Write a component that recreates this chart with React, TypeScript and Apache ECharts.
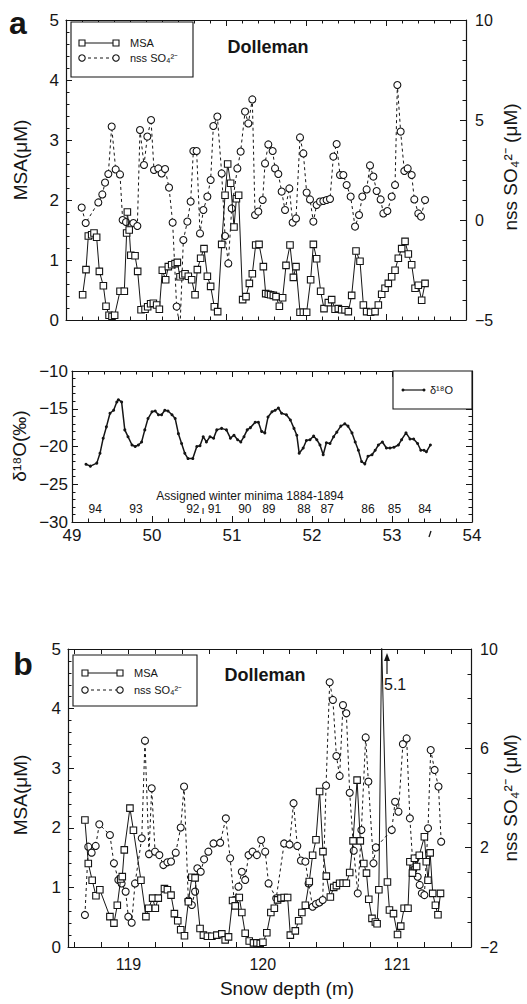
import React, { useEffect, useRef } from "react";
import * as echarts from "echarts";

const FONT = "'Liberation Sans', Arial, Helvetica, sans-serif";
const INK = "#151515";

// ---------- Panel a (top): depth 49-54 m ----------
const A_MSA: [number, number][] = [
  [49.208, 0.42], [49.25, 0.84], [49.279, 1.4], [49.321, 1.42], [49.35, 1.45], [49.383, 1.38],
  [49.417, 0.81], [49.467, 0.57], [49.5, 0.23], [49.538, 0.08], [49.575, 0.06], [49.608, 0.08],
  [49.675, 0.48], [49.729, 0.48], [49.758, 1.45], [49.767, 1.8], [49.79, 1.5], [49.81, 1.08],
  [49.863, 1.07], [49.896, 0.81], [49.938, 0.17], [49.988, 0.18], [50.021, 0.22], [50.058, 0.27],
  [50.092, 0.28], [50.133, 0.25], [50.167, 0.18], [50.204, 0.83], [50.246, 0.67], [50.279, 0.89],
  [50.321, 0.92], [50.363, 0.94], [50.392, 0.96], [50.425, 0.72], [50.458, 0.75], [50.488, 0.77],
  [50.529, 0.73], [50.571, 0.67], [50.613, 0.42], [50.642, 0.84], [50.683, 1.03], [50.725, 1.19],
  [50.767, 0.73], [50.808, 0.56], [50.854, 0.22], [50.896, 0.14], [50.946, 1.26], [50.988, 2.08],
  [51.021, 2.6], [51.058, 2.28], [51.1, 1.55], [51.13, 2.02], [51.158, 2.08], [51.208, 0.34],
  [51.25, 0.39], [51.292, 0.61], [51.329, 0.77], [51.371, 1.25], [51.413, 1.26], [51.467, 0.89],
  [51.496, 0.44], [51.529, 0.43], [51.558, 0.42], [51.592, 0.41], [51.625, 0.39], [51.667, 0.23],
  [51.708, 0.37], [51.75, 0.91], [51.8, 1.25], [51.842, 0.71], [51.875, 0.89], [51.925, 0.13],
  [51.967, 0.13], [52.008, 0.13], [52.058, 0.67], [52.092, 1.26], [52.133, 1.02], [52.183, 0.48],
  [52.225, 0.19], [52.279, 0.29], [52.321, 0.34], [52.363, 0.18], [52.404, 0.19], [52.446, 0.17],
  [52.488, 0.17], [52.529, 0.14], [52.571, 0.41], [52.625, 1.15], [52.675, 0.98], [52.717, 0.25],
  [52.758, 0.14], [52.808, 0.13], [52.863, 0.14], [52.904, 0.25], [52.946, 0.43], [52.988, 0.53],
  [53.029, 0.61], [53.071, 0.72], [53.113, 0.83], [53.154, 1.03], [53.196, 1.19], [53.238, 1.31],
  [53.279, 1.1], [53.321, 0.92], [53.363, 0.53], [53.404, 0.58], [53.446, 0.33], [53.488, 0.61],
];

const A_NSS: [number, number][] = [
  [49.196, 0.62], [49.246, -0.15], [49.404, 0.88], [49.454, 1.28], [49.488, 1.87], [49.529, 2.3],
  [49.571, 4.67], [49.621, 2.53], [49.675, 2.28], [49.708, 0.0], [49.75, -0.1], [49.842, -0.15],
  [49.892, -0.3], [49.925, 4.5], [49.975, 2.75], [50.017, 4.17], [50.063, 5.0], [50.1, 2.5],
  [50.154, 2.58], [50.196, 2.33], [50.238, 2.55], [50.288, 1.62], [50.333, -0.13], [50.383, -4.33],
  [50.425, -5.4], [50.467, -1.0], [50.517, -0.08], [50.558, 0.92], [50.592, 3.45], [50.633, 3.45],
  [50.675, -0.67], [50.717, 0.5], [50.767, 1.17], [50.808, 2.0], [50.842, 4.7], [50.892, 5.17],
  [50.946, 2.33], [50.988, -0.8], [51.029, -2.17], [51.071, 0.58], [51.142, 2.58], [51.183, 3.42],
  [51.238, 5.42], [51.279, 4.83], [51.329, 6.03], [51.363, 0.25], [51.404, 0.42], [51.458, 1.0],
  [51.488, 2.83], [51.529, 3.78], [51.583, 3.45], [51.613, 2.58], [51.654, 2.3], [51.696, 1.42],
  [51.738, 0.5], [51.792, 1.58], [51.833, -0.13], [51.875, 0.08], [51.925, 4.13], [51.967, 3.33],
  [52.008, 1.37], [52.05, 1.03], [52.092, -0.08], [52.133, 0.75], [52.175, 0.92], [52.217, 0.95],
  [52.258, 1.0], [52.3, 1.05], [52.342, 3.17], [52.383, 3.8], [52.425, 2.25], [52.467, 2.25],
  [52.508, 1.75], [52.558, 1.17], [52.613, -0.33], [52.663, 0.25], [52.704, 1.17], [52.758, 1.53],
  [52.8, 2.73], [52.842, 2.17], [52.883, 1.45], [52.933, 1.03], [52.967, 0.33], [53.017, 0.45],
  [53.071, 1.17], [53.113, 1.75], [53.142, 6.75], [53.183, 4.42], [53.229, 2.45], [53.271, 2.58],
  [53.321, 2.25], [53.354, 1.03], [53.404, 0.33], [53.438, 0.17], [53.488, 1.0],
];

const D18O: [number, number][] = [
  [49.175, -22.36], [49.23, -22.6], [49.31, -22.2], [49.35, -20.9], [49.39, -18.9], [49.43, -17.4],
  [49.475, -15.6], [49.52, -15.2], [49.56, -14.1], [49.58, -13.8], [49.62, -14.1], [49.66, -17.8],
  [49.7, -18.7], [49.75, -19.8], [49.79, -20.0], [49.83, -19.8], [49.87, -19.4], [49.91, -17.8],
  [49.95, -16.3], [50.0, -15.4], [50.04, -15.3], [50.08, -15.8], [50.12, -15.8], [50.16, -15.2],
  [50.2, -15.3], [50.25, -15.8], [50.29, -16.3], [50.33, -18.3], [50.37, -19.6], [50.41, -20.9],
  [50.45, -21.6], [50.51, -21.6], [50.56, -20.0], [50.6, -19.9], [50.64, -18.7], [50.68, -19.4],
  [50.725, -18.7], [50.77, -18.9], [50.81, -17.8], [50.87, -17.6], [50.93, -17.8], [50.98, -18.9],
  [51.025, -18.5], [51.07, -19.1], [51.11, -19.4], [51.15, -18.7], [51.19, -17.8], [51.23, -17.5],
  [51.29, -16.8], [51.33, -16.8], [51.37, -18.0], [51.41, -18.2], [51.45, -16.1], [51.5, -15.4],
  [51.54, -15.2], [51.58, -14.9], [51.62, -15.6], [51.68, -15.8], [51.73, -16.5], [51.775, -17.6],
  [51.81, -18.5], [51.84, -20.9], [51.89, -20.2], [51.93, -19.2], [51.975, -19.1], [52.02, -18.6],
  [52.06, -19.1], [52.1, -19.8], [52.14, -21.1], [52.18, -19.5], [52.225, -19.6], [52.27, -18.7],
  [52.31, -18.1], [52.36, -17.3], [52.41, -17.0], [52.45, -17.3], [52.5, -18.2], [52.54, -19.4],
  [52.58, -20.5], [52.62, -22.0], [52.66, -22.3], [52.7, -21.3], [52.75, -21.1], [52.79, -20.5],
  [52.83, -19.8], [52.88, -19.4], [52.93, -20.2], [52.975, -20.2], [53.025, -20.1], [53.08, -19.8],
  [53.12, -19.1], [53.175, -18.2], [53.225, -19.0], [53.27, -19.0], [53.32, -19.6], [53.36, -20.5],
  [53.4, -20.5], [53.43, -20.7], [53.48, -19.8],
];

const WINTER_YEARS = ["94", "93", "92", "91", "90", "89", "88", "87", "86", "85", "84"];
const WINTER_DEPTHS = [49.29, 49.8, 50.51, 50.78, 51.16, 51.46, 51.9, 52.19, 52.7, 53.03, 53.41];

// ---------- Panel b: depth 118.55-121.55 m ----------
const B_MSA: [number, number][] = [
  [118.676, 2.13], [118.701, 1.4], [118.73, 1.12], [118.758, 0.86], [118.787, 0.96], [118.862, 0.51],
  [118.892, 0.4], [118.917, 0.7], [118.942, 1.14], [118.954, 1.18], [118.969, 1.63], [119.011, 2.33],
  [119.037, 1.96], [119.093, 1.12], [119.13, 0.51], [119.15, 0.65], [119.18, 0.82], [119.2, 0.65],
  [119.222, 0.82], [119.268, 0.98], [119.29, 0.96], [119.317, 0.87], [119.342, 0.56], [119.367, 0.44],
  [119.389, 0.29], [119.417, 0.19], [119.446, 0.76], [119.472, 1.17], [119.496, 1.16], [119.533, 0.31],
  [119.558, 0.2], [119.588, 0.18], [119.621, 0.18], [119.658, 0.2], [119.695, 0.22], [119.72, 0.12],
  [119.745, 0.17], [119.775, 0.78], [119.795, 0.69], [119.825, 0.83], [119.844, 0.58], [119.869, 0.23],
  [119.899, 0.1], [119.931, 0.07], [119.956, 0.07], [119.981, 0.06], [120.001, 0.08], [120.03, 0.24],
  [120.06, 0.58], [120.086, 0.65], [120.11, 0.79], [120.135, 0.82], [120.159, 0.83], [120.185, 0.83],
  [120.205, 0.2], [120.242, 0.27], [120.267, 0.44], [120.291, 0.58], [120.317, 0.7], [120.346, 1.1],
  [120.371, 1.54], [120.396, 1.8], [120.423, 2.61], [120.448, 1.6], [120.473, 1.19], [120.503, 0.84],
  [120.528, 1.0], [120.548, 1.03], [120.572, 1.07], [120.598, 1.07], [120.622, 1.07], [120.647, 1.25],
  [120.672, 1.78], [120.702, 2.8], [120.726, 1.78], [120.752, 1.4], [120.772, 1.24], [120.789, 0.8],
  [120.813, 0.48], [120.838, 0.42], [120.851, 0.39], [120.864, 0.96], [120.885, 5.1], [120.928, 1.09],
  [120.943, 0.62], [120.973, 0.56], [121.003, 0.21], [121.027, 0.35], [121.052, 0.65], [121.081, 0.65],
  [121.095, 1.43], [121.114, 1.24], [121.129, 1.49], [121.145, 1.35], [121.165, 1.54], [121.203, 1.85],
  [121.217, 1.43], [121.23, 1.12], [121.246, 1.58], [121.265, 0.9], [121.285, 0.7], [121.304, 0.54],
  [121.323, 0.9],
];

const B_NSS: [number, number][] = [
  [118.676, -0.71], [118.701, 2.04], [118.726, 1.8], [118.756, 2.07], [118.783, 2.94], [118.862, 2.51],
  [118.892, 1.37], [118.925, 0.7], [118.949, 0.56], [118.979, 0.23], [118.999, -0.78], [119.024, -1.02],
  [119.049, 0.56], [119.099, 2.38], [119.123, 6.31], [119.153, 1.74], [119.173, 4.39], [119.198, 1.84],
  [119.23, 1.7], [119.26, 1.3], [119.29, 1.41], [119.317, 1.44], [119.352, 1.8], [119.389, 2.81],
  [119.414, 4.46], [119.446, -0.13], [119.472, -0.31], [119.496, 0.23], [119.513, 1.17], [119.538, 1.03],
  [119.563, 1.53], [119.595, 1.84], [119.633, 2.17], [119.683, 2.2], [119.725, 3.18], [119.757, 1.57],
  [119.787, -0.11], [119.819, 0.43], [119.844, 1.03], [119.869, 0.7], [119.894, 1.7], [119.924, 1.84],
  [119.956, 1.7], [119.988, 2.31], [120.018, 1.84], [120.043, 0.56], [120.1, -0.04], [120.159, 2.17],
  [120.199, 2.13], [120.229, 3.79], [120.257, 2.07], [120.284, 1.48], [120.317, 1.44], [120.341, 0.56],
  [120.371, -0.38], [120.396, -0.27], [120.421, -0.21], [120.446, -0.11], [120.471, 4.5], [120.498, 8.66],
  [120.522, 7.95], [120.548, 5.69], [120.572, 4.89], [120.597, 7.74], [120.622, 7.41], [120.647, 4.21],
  [120.677, 1.88], [120.707, 0.16], [120.734, 2.71], [120.766, 6.44], [120.786, 4.66], [120.824, 1.37],
  [120.842, 2.01], [120.96, 2.71], [120.985, 3.85], [121.01, 3.45], [121.043, 6.17], [121.071, 6.4],
  [121.095, 3.18], [121.12, 1.1], [121.139, 1.57], [121.153, 0.83], [121.168, 0.5], [121.184, 0.16],
  [121.203, 0.09], [121.23, 2.78], [121.25, 5.93], [121.279, 5.13], [121.308, 4.46], [121.328, 2.24],
];

const B_X_LABELS = [119, 120, 121];
const B_X_TICKS = [
  118.6, 118.8, 119, 119.2, 119.4, 119.6, 119.8, 120, 120.2, 120.4, 120.6, 120.8, 121, 121.2, 121.4,
];

const minus = (v: number) => String(v).replace("-", "\u2212");

const tickLine = { color: INK, width: 1 };
const line = { color: INK, width: 1.2 };

function xAxisDef(gridIndex: number, position: "top" | "bottom", showLabels: boolean) {
  return {
    type: "value",
    gridIndex,
    position,
    min: 49,
    max: 54,
    interval: 1,
    axisLine: { show: true, onZero: false, lineStyle: line },
    axisTick: { show: true, inside: true, length: 6, lineStyle: tickLine },
    minorTick: { show: true, splitNumber: 5, length: 3.5, lineStyle: tickLine },
    axisLabel: { show: showLabels, color: INK, fontSize: 17, margin: 5, fontFamily: FONT },
    splitLine: { show: false },
  };
}

function xAxisB(position: "top" | "bottom", showLabels: boolean) {
  return {
    type: "value",
    gridIndex: 2,
    position,
    min: 118.55,
    max: 121.55,
    axisLine: { show: true, onZero: false, lineStyle: line },
    axisTick: { show: true, inside: true, length: 5, lineStyle: tickLine, customValues: B_X_TICKS },
    axisLabel: {
      show: showLabels,
      color: INK,
      fontSize: 16,
      margin: 9,
      fontFamily: FONT,
      customValues: B_X_LABELS,
    },
    splitLine: { show: false },
  };
}

function yAxisDef(
  gridIndex: number,
  position: "left" | "right",
  min: number,
  max: number,
  interval: number,
  split: number,
  showLabels: boolean,
  fontSize: number,
  margin: number
) {
  return {
    type: "value",
    gridIndex,
    position,
    min,
    max,
    interval,
    axisLine: { show: true, onZero: false, lineStyle: line },
    axisTick: { show: true, inside: true, length: 6, lineStyle: tickLine },
    minorTick: { show: true, splitNumber: split, length: 3.5, lineStyle: tickLine },
    axisLabel: {
      show: showLabels,
      color: INK,
      fontSize,
      margin,
      fontFamily: FONT,
      formatter: (v: number) => minus(v),
    },
    splitLine: { show: false },
  };
}

function txt(
  text: string,
  x: number,
  y: number,
  size: number,
  opts: { bold?: boolean; align?: string; rot?: number; va?: string } = {}
) {
  return {
    type: "text",
    x,
    y,
    rotation: opts.rot || 0,
    silent: true,
    z: 50,
    style: {
      text,
      fill: INK,
      fontSize: size,
      fontWeight: opts.bold ? "bold" : "normal",
      fontFamily: FONT,
      textAlign: opts.align || "center",
      textVerticalAlign: opts.va || "middle",
      align: opts.align || "center",
      verticalAlign: opts.va || "middle",
    },
  };
}

function legendBlock(x: number, y: number, w: number, h: number, row1: number, row2: number, lx1: number, lx2: number, tx: number) {
  const els: any[] = [];
  els.push({
    type: "rect",
    shape: { x, y, width: w, height: h },
    style: { fill: "#fff", stroke: INK, lineWidth: 1.1 },
    z: 40,
    silent: true,
  });
  els.push({ type: "line", shape: { x1: lx1, y1: row1, x2: lx2, y2: row1 }, style: { stroke: INK, lineWidth: 1 }, z: 41, silent: true });
  els.push({ type: "line", shape: { x1: lx1, y1: row2, x2: lx2, y2: row2 }, style: { stroke: INK, lineWidth: 1, lineDash: [3, 3] }, z: 41, silent: true });
  [lx1, lx2].forEach((cx) => {
    els.push({ type: "rect", shape: { x: cx - 3, y: row1 - 3, width: 6, height: 6 }, style: { fill: "#fff", stroke: INK, lineWidth: 1.1 }, z: 42, silent: true });
    els.push({ type: "circle", shape: { cx, cy: row2, r: 3.2 }, style: { fill: "#fff", stroke: INK, lineWidth: 1.1 }, z: 42, silent: true });
  });
  els.push(txt("MSA", tx, row1, 11, { align: "left" }));
  els.push(txt("nss SO\u2084\u00B2\u207B", tx, row2, 11, { align: "left" }));
  return els;
}

export default function App() {
  const ref = useRef<HTMLDivElement>(null);

  useEffect(() => {
    if (!ref.current) return;
    const chart = echarts.init(ref.current, undefined, { renderer: "svg" });

    const msaStyle = (xi: number, yi: number, data: [number, number][]) => ({
      type: "line",
      xAxisIndex: xi,
      yAxisIndex: yi,
      data,
      clip: true,
      z: 4,
      symbol: "rect",
      symbolSize: 6.5,
      lineStyle: { color: INK, width: 1 },
      itemStyle: { color: "#fff", borderColor: INK, borderWidth: 1.1 },
      silent: true,
    });
    const nssStyle = (xi: number, yi: number, data: [number, number][]) => ({
      type: "line",
      xAxisIndex: xi,
      yAxisIndex: yi,
      data,
      clip: true,
      z: 3,
      symbol: "circle",
      symbolSize: 7,
      lineStyle: { color: INK, width: 1, type: [3, 3] },
      itemStyle: { color: "#fff", borderColor: INK, borderWidth: 1.1 },
      silent: true,
    });

    const option: any = {
      animation: false,
      backgroundColor: "#fff",
      textStyle: { fontFamily: FONT },
      grid: [
        { left: 66, top: 20, width: 400, height: 300 },
        { left: 72, top: 371, width: 400, height: 151 },
        { left: 68, top: 649, width: 403, height: 298 },
      ],
      xAxis: [
        xAxisDef(0, "bottom", false),
        xAxisDef(0, "top", false),
        xAxisDef(1, "bottom", true),
        xAxisDef(1, "top", false),
        xAxisB("bottom", true),
        xAxisB("top", false),
      ],
      yAxis: [
        yAxisDef(0, "left", 0, 5, 1, 5, true, 17, 7),
        yAxisDef(0, "right", -5, 10, 5, 5, true, 16, 9),
        yAxisDef(1, "left", -30, -10, 5, 5, true, 17, 4),
        yAxisDef(1, "right", -30, -10, 5, 5, false, 16, 8),
        yAxisDef(2, "left", 0, 5, 1, 5, true, 17, 7),
        yAxisDef(2, "right", -2, 10, 4, 4, true, 16, 9),
      ],
      series: [
        nssStyle(0, 1, A_NSS),
        msaStyle(0, 0, A_MSA),
        {
          type: "line",
          xAxisIndex: 2,
          yAxisIndex: 2,
          data: D18O,
          symbol: "circle",
          symbolSize: 3,
          lineStyle: { color: INK, width: 1.5 },
          itemStyle: { color: INK },
          silent: true,
        },
        {
          type: "scatter",
          xAxisIndex: 2,
          yAxisIndex: 2,
          symbol: "circle",
          symbolSize: 1,
          itemStyle: { color: "#fff", opacity: 1 },
          silent: true,
          z: 10,
          data: WINTER_DEPTHS.map((d, i) => ({ value: [d, -28.3], name: WINTER_YEARS[i] })),
          label: {
            show: true,
            position: "inside",
            formatter: (p: any) => p.name,
            color: INK,
            opacity: 1,
            textBorderWidth: 0,
            fontSize: 12,
            fontFamily: FONT,
          },
        },
        nssStyle(4, 5, B_NSS),
        msaStyle(4, 4, B_MSA),
      ],
      graphic: [
        txt("a", 18, 23, 32, { bold: true }),
        txt("b", 23, 664, 32, { bold: true }),
        txt("Dolleman", 268, 47, 18, { bold: true }),
        txt("Dolleman", 265, 675, 18, { bold: true }),
        txt("MSA(\u03BCM)", 20, 160, 19, { rot: Math.PI / 2 }),
        txt("nss SO\u2084\u00B2\u207B (\u03BCM)", 510, 167, 19, { rot: Math.PI / 2 }),
        txt("\u03B4\u00B9\u2078O(\u2030)", 19, 446, 19, { rot: Math.PI / 2 }),
        txt("MSA(\u03BCM)", 20, 795, 19, { rot: Math.PI / 2 }),
        txt("nss SO\u2084\u00B2\u207B (\u03BCM)", 510, 798, 19, { rot: Math.PI / 2 }),
        txt("Snow depth (m)", 287, 988, 19),
        txt("Assigned winter minima 1884-1894", 250, 496, 12),
        txt("\u0131", 203, 510, 11),
        { type: "line", shape: { x1: 431, y1: 531, x2: 429, y2: 537 }, style: { stroke: INK, lineWidth: 1.3 }, silent: true },
        ...legendBlock(71, 22, 122, 55, 43, 58, 82, 116, 130),
        ...legendBlock(73, 655, 124, 51, 673, 690, 85, 120, 134),
        {
          type: "rect",
          shape: { x: 393, y: 371, width: 79, height: 38 },
          style: { fill: "#fff", stroke: INK, lineWidth: 1.1 },
          z: 40,
          silent: true,
        },
        { type: "line", shape: { x1: 403, y1: 390, x2: 424, y2: 390 }, style: { stroke: INK, lineWidth: 1.2 }, z: 41, silent: true },
        { type: "circle", shape: { cx: 403, cy: 390, r: 1.5 }, style: { fill: INK }, z: 42, silent: true },
        { type: "circle", shape: { cx: 424, cy: 390, r: 1.5 }, style: { fill: INK }, z: 42, silent: true },
        txt("\u03B4\u00B9\u2078O", 430, 390, 11, { align: "left" }),
        { type: "line", shape: { x1: 387, y1: 674, x2: 387, y2: 658 }, style: { stroke: INK, lineWidth: 1.2 }, silent: true },
        { type: "polygon", shape: { points: [[387, 653], [384, 661], [390, 661]] }, style: { fill: INK }, silent: true },
        txt("5.1", 384, 684, 16, { align: "left" }),
      ],
    };

    chart.setOption(option);
    return () => chart.dispose();
  }, []);

  return (
    <div
      ref={ref}
      style={{ position: "fixed", left: 0, top: 0, width: 527, height: 1004, background: "#fff" }}
    />
  );
}
